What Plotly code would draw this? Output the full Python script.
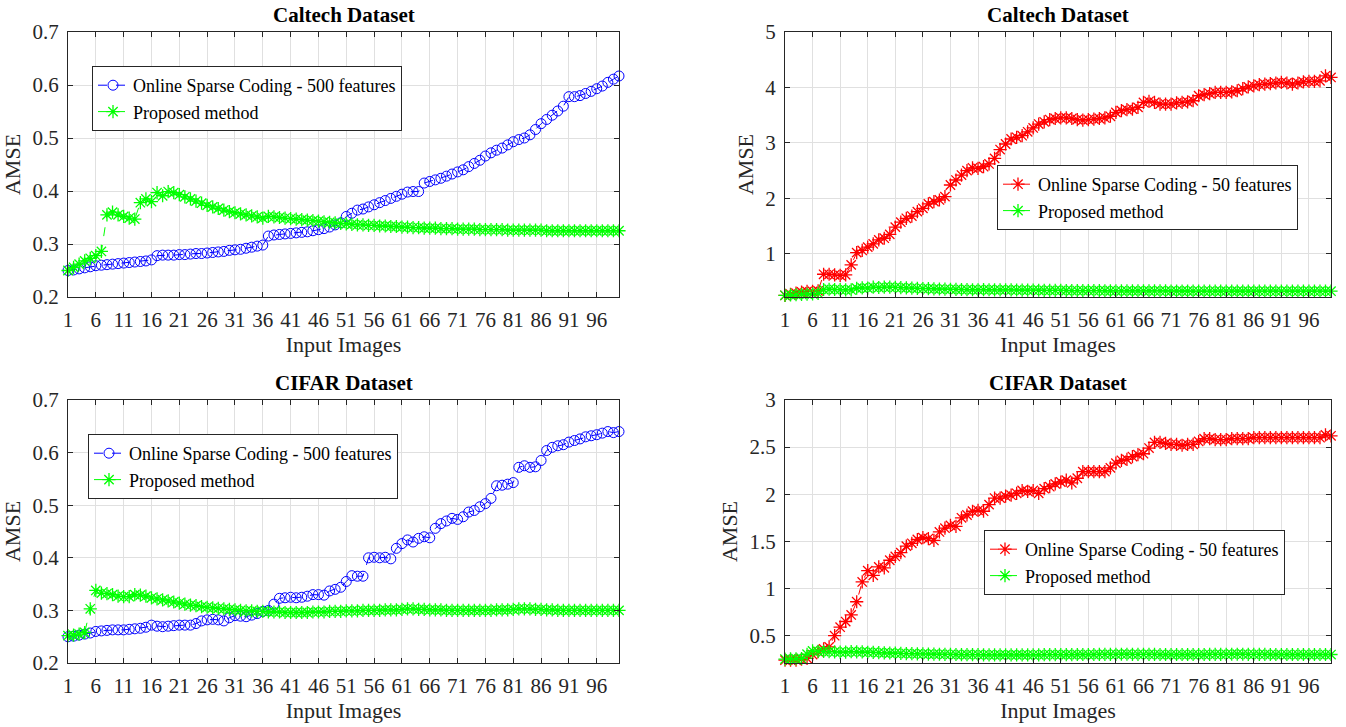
import plotly.graph_objects as go

x_images = list(range(1, 101))
x_tickvals = list(range(1, 100, 5))

caltech_osc500 = [
    0.250, 0.251, 0.253, 0.255, 0.257, 0.259, 0.260, 0.261, 0.262, 0.263,
    0.264, 0.265, 0.266, 0.267, 0.268, 0.270, 0.278, 0.279, 0.279, 0.279,
    0.280, 0.280, 0.281, 0.282, 0.282, 0.283, 0.284, 0.285, 0.286, 0.288,
    0.289, 0.290, 0.292, 0.294, 0.296, 0.298, 0.315, 0.317, 0.318, 0.319,
    0.320, 0.321, 0.322, 0.323, 0.325, 0.327, 0.329, 0.332, 0.336, 0.340,
    0.352, 0.358, 0.364, 0.366, 0.370, 0.374, 0.378, 0.382, 0.386, 0.390,
    0.394, 0.398, 0.399, 0.399, 0.415, 0.418, 0.421, 0.424, 0.428, 0.432,
    0.436, 0.440, 0.446, 0.452, 0.458, 0.466, 0.472, 0.477, 0.481, 0.487,
    0.493, 0.497, 0.500, 0.506, 0.516, 0.527, 0.535, 0.543, 0.551, 0.560,
    0.578, 0.578, 0.580, 0.584, 0.588, 0.593, 0.598, 0.605, 0.611, 0.617,
]

caltech_proposed = [
    0.250, 0.256, 0.262, 0.268, 0.273, 0.278, 0.286, 0.355, 0.360, 0.355,
    0.352, 0.349, 0.347, 0.378, 0.385, 0.380, 0.397, 0.391, 0.399, 0.397,
    0.393, 0.389, 0.385, 0.381, 0.377, 0.373, 0.370, 0.367, 0.364, 0.361,
    0.359, 0.357, 0.355, 0.353, 0.351, 0.349, 0.352, 0.351, 0.350, 0.349,
    0.348, 0.347, 0.346, 0.345, 0.344, 0.343, 0.342, 0.341, 0.340, 0.339,
    0.338, 0.337, 0.336, 0.336, 0.335, 0.335, 0.334, 0.334, 0.333, 0.333,
    0.332, 0.332, 0.331, 0.331, 0.330, 0.330, 0.330, 0.329, 0.329, 0.329,
    0.328, 0.328, 0.328, 0.328, 0.327, 0.327, 0.327, 0.327, 0.327, 0.326,
    0.326, 0.326, 0.326, 0.326, 0.326, 0.326, 0.325, 0.325, 0.325, 0.325,
    0.325, 0.325, 0.325, 0.325, 0.325, 0.325, 0.325, 0.325, 0.325, 0.325,
]

caltech_osc50 = [
    0.25, 0.27, 0.29, 0.31, 0.32, 0.32, 0.33, 0.63, 0.63, 0.62,
    0.61, 0.62, 0.80, 1.02, 1.06, 1.12, 1.18, 1.25, 1.28, 1.35,
    1.48, 1.57, 1.64, 1.68, 1.76, 1.82, 1.90, 1.94, 1.97, 2.03,
    2.24, 2.33, 2.42, 2.50, 2.55, 2.54, 2.57, 2.62, 2.72, 2.88,
    2.98, 3.07, 3.10, 3.13, 3.20, 3.27, 3.34, 3.38, 3.42, 3.44,
    3.45, 3.45, 3.44, 3.42, 3.41, 3.42, 3.43, 3.44, 3.45, 3.48,
    3.55, 3.58, 3.60, 3.61, 3.64, 3.73, 3.75, 3.73, 3.70, 3.70,
    3.70, 3.72, 3.73, 3.74, 3.76, 3.85, 3.87, 3.89, 3.91, 3.91,
    3.91, 3.92, 3.94, 3.98, 4.01, 4.03, 4.05, 4.06, 4.07, 4.08,
    4.09, 4.08, 4.06, 4.08, 4.10, 4.11, 4.11, 4.12, 4.21, 4.18,
]

cifar_osc500 = [
    0.250, 0.251, 0.253, 0.255, 0.257, 0.260, 0.261, 0.262, 0.263, 0.263,
    0.263, 0.264, 0.265, 0.266, 0.268, 0.272, 0.270, 0.269, 0.270, 0.271,
    0.272, 0.272, 0.272, 0.275, 0.280, 0.282, 0.283, 0.282, 0.280, 0.286,
    0.290, 0.289, 0.288, 0.291, 0.294, 0.298, 0.300, 0.312, 0.323, 0.324,
    0.325, 0.324, 0.325, 0.327, 0.330, 0.330, 0.329, 0.337, 0.340, 0.344,
    0.355, 0.366, 0.365, 0.365, 0.400, 0.401, 0.400, 0.401, 0.398, 0.418,
    0.427, 0.434, 0.430, 0.437, 0.440, 0.438, 0.456, 0.465, 0.470, 0.475,
    0.473, 0.478, 0.487, 0.490, 0.497, 0.503, 0.513, 0.537, 0.538, 0.540,
    0.543, 0.572, 0.575, 0.572, 0.573, 0.585, 0.604, 0.610, 0.613, 0.615,
    0.620, 0.623, 0.626, 0.630, 0.632, 0.634, 0.637, 0.640, 0.638, 0.640,
]

cifar_proposed = [
    0.252, 0.253, 0.255, 0.258, 0.303, 0.338, 0.333, 0.332, 0.330, 0.327,
    0.326, 0.326, 0.330, 0.329, 0.327, 0.324, 0.322, 0.320, 0.318, 0.316,
    0.314, 0.312, 0.310, 0.309, 0.307, 0.306, 0.305, 0.304, 0.303, 0.302,
    0.301, 0.300, 0.299, 0.299, 0.298, 0.298, 0.297, 0.297, 0.297, 0.296,
    0.296, 0.296, 0.296, 0.296, 0.297, 0.297, 0.297, 0.298, 0.298, 0.298,
    0.299, 0.299, 0.299, 0.300, 0.300, 0.300, 0.300, 0.301, 0.301, 0.301,
    0.302, 0.303, 0.303, 0.302, 0.302, 0.301, 0.301, 0.301, 0.300, 0.300,
    0.300, 0.300, 0.300, 0.300, 0.300, 0.300, 0.300, 0.301, 0.301, 0.301,
    0.302, 0.303, 0.303, 0.303, 0.302, 0.302, 0.301, 0.301, 0.300, 0.300,
    0.300, 0.300, 0.300, 0.300, 0.300, 0.300, 0.300, 0.300, 0.300, 0.300,
]

cifar_osc50 = [
    0.24, 0.24, 0.24, 0.25, 0.26, 0.30, 0.33, 0.36, 0.38, 0.50,
    0.59, 0.65, 0.72, 0.86, 1.07, 1.19, 1.14, 1.23, 1.22, 1.30,
    1.34, 1.38, 1.45, 1.48, 1.52, 1.54, 1.53, 1.51, 1.60, 1.64,
    1.67, 1.66, 1.75, 1.78, 1.82, 1.83, 1.82, 1.89, 1.96, 1.96,
    1.98, 1.99, 2.01, 2.04, 2.03, 2.04, 2.01, 2.06, 2.08, 2.11,
    2.13, 2.15, 2.12, 2.17, 2.24, 2.24, 2.24, 2.24, 2.24, 2.28,
    2.33, 2.36, 2.37, 2.40, 2.42, 2.43, 2.49, 2.55, 2.55, 2.54,
    2.53, 2.53, 2.52, 2.53, 2.53, 2.56, 2.59, 2.59, 2.58, 2.58,
    2.58, 2.59, 2.59, 2.59, 2.59, 2.60, 2.60, 2.60, 2.60, 2.60,
    2.60, 2.60, 2.60, 2.60, 2.60, 2.60, 2.60, 2.60, 2.63, 2.62,
]

titles = ["Caltech Dataset", "Caltech Dataset", "CIFAR Dataset", "CIFAR Dataset"]
name_osc500 = "Online Sparse Coding - 500 features"
name_osc50 = "Online Sparse Coding - 50 features"
name_prop = "Proposed method"

FONT = "Liberation Serif, Times New Roman, serif"
W, H = 1346, 727
BLUE, GREEN, RED = "#0000FF", "#00FF00", "#FF0000"

# panel pixel boxes: (left, right, top, bottom)
panels = [
    (68, 619, 32, 297),
    (785, 1331, 32, 297),
    (68, 619, 400, 663),
    (785, 1331, 400, 663),
]
legend_pos = [(92, 66), (997, 165), (88, 434), (984, 530)]

fig = go.Figure()

def circle_trace(y, name, legend, xa, ya):
    return go.Scatter(
        x=x_images, y=y, name=name, mode="lines+markers",
        line=dict(color=BLUE, width=1, dash="dash"),
        marker=dict(symbol="circle-open", size=10, color=BLUE, line=dict(width=1, color=BLUE)),
        legend=legend, xaxis=xa, yaxis=ya, cliponaxis=False,
    )

def star_trace(y, name, color, legend, xa, ya):
    return go.Scatter(
        x=x_images, y=y, name=name, mode="lines+markers",
        line=dict(color=color, width=1, dash="dash"),
        marker=dict(symbol="asterisk-open", size=11, color=color, line=dict(width=1.3, color=color)),
        legend=legend, xaxis=xa, yaxis=ya, cliponaxis=False,
    )

fig.add_trace(circle_trace(caltech_osc500, name_osc500, "legend", "x", "y"))
fig.add_trace(star_trace(caltech_proposed, name_prop, GREEN, "legend", "x", "y"))
fig.add_trace(star_trace(caltech_osc50, name_osc50, RED, "legend2", "x2", "y2"))
fig.add_trace(star_trace(caltech_proposed, name_prop, GREEN, "legend2", "x2", "y2"))
fig.add_trace(circle_trace(cifar_osc500, name_osc500, "legend3", "x3", "y3"))
fig.add_trace(star_trace(cifar_proposed, name_prop, GREEN, "legend3", "x3", "y3"))
fig.add_trace(star_trace(cifar_osc50, name_osc50, RED, "legend4", "x4", "y4"))
fig.add_trace(star_trace(cifar_proposed, name_prop, GREEN, "legend4", "x4", "y4"))

y_ranges = [[0.2, 0.7], [0.22, 5], [0.2, 0.7], [0.21, 3]]
y_dticks = [0.1, 1, 0.1, 0.5]
y_tick0 = [0.2, 1, 0.2, 0.5]

axis_common = dict(
    showline=True, linecolor="#262626", linewidth=1, mirror="ticks",
    ticks="inside", ticklen=5, tickcolor="#262626",
    showgrid=True, gridcolor="#E0E0E0", gridwidth=1, zeroline=False,
    tickfont=dict(family=FONT, size=21, color="#262626"),
    ticklabelstandoff=4, automargin=False,
)

layout = dict(
    width=W, height=H, autosize=False,
    margin=dict(l=0, r=0, t=0, b=0, pad=0),
    paper_bgcolor="white", plot_bgcolor="white",
    font=dict(family=FONT, color="#262626"),
    annotations=[],
)

for i, (l, r, t, b) in enumerate(panels):
    sfx = "" if i == 0 else str(i + 1)
    xa = dict(axis_common)
    xa.update(
        domain=[l / W, r / W], anchor="y" + sfx, range=[1, 100],
        tickmode="array", tickvals=x_tickvals,
        title=dict(text="Input Images", font=dict(family=FONT, size=22, color="#262626"), standoff=0),
    )
    ya = dict(axis_common)
    ya.update(
        domain=[1 - b / H, 1 - t / H], anchor="x" + sfx, range=y_ranges[i],
        tick0=y_tick0[i], dtick=y_dticks[i],
        title=dict(text="AMSE", font=dict(family=FONT, size=22, color="#262626"), standoff=5),
    )
    layout["xaxis" + sfx] = xa
    layout["yaxis" + sfx] = ya
    lx, ly = legend_pos[i]
    layout["legend" + sfx] = dict(
        x=lx / W, y=1 - ly / H, xanchor="left", yanchor="top",
        xref="paper", yref="paper",
        bgcolor="white", bordercolor="#262626", borderwidth=1,
        font=dict(family=FONT, size=18, color="#000000"),
        tracegroupgap=0, itemwidth=30,
    )
    layout["annotations"].append(dict(
        text="<b>" + titles[i] + "</b>", x=(l + r) / 2 / W, y=1 - (t - 17) / H,
        xref="paper", yref="paper", xanchor="center", yanchor="middle",
        showarrow=False, font=dict(family=FONT, size=21, color="#000000"),
    ))

fig.update_layout(**layout)
fig.write_html(
    "out.html",
    config={"displayModeBar": False},
    post_script="document.body.style.margin='0';document.body.style.overflow='hidden';"
                "document.documentElement.style.overflow='hidden';",
)
